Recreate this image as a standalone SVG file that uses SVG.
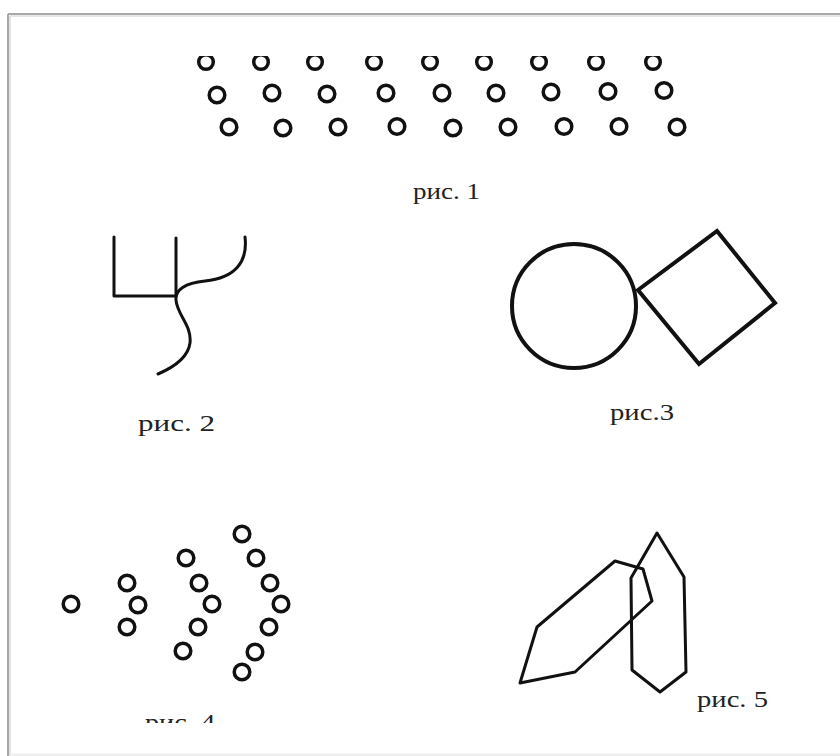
<svg xmlns="http://www.w3.org/2000/svg" width="840" height="756" viewBox="0 0 840 756">
<style>
.ring{fill:none;stroke:#111;stroke-width:3.5}
.ln{fill:none;stroke:#111;stroke-width:3;stroke-linecap:round;stroke-linejoin:round}
.thick{fill:none;stroke:#111;stroke-width:4;stroke-linejoin:miter}
.cap{font-family:"Liberation Serif","Times New Roman",serif;font-size:24px;fill:#222}
</style>
<defs>
<clipPath id="topclip"><rect x="0" y="56" width="840" height="700"/></clipPath>
<clipPath id="botclip"><rect x="0" y="0" width="840" height="723"/></clipPath>
</defs>
<rect width="840" height="756" fill="#fff"/>
<g id="frame">
<line x1="8" y1="14" x2="840" y2="14" stroke="#a8a8a8" stroke-width="2"/>
<line x1="10" y1="16" x2="840" y2="16" stroke="#e6e6e6" stroke-width="2"/>
<line x1="8" y1="14" x2="8" y2="756" stroke="#a8a8a8" stroke-width="2"/>
<line x1="10" y1="16" x2="10" y2="756" stroke="#e2e2e2" stroke-width="2"/>
<line x1="10" y1="755" x2="840" y2="755" stroke="#efefef" stroke-width="3"/>
</g>
<g id="fig1">
<g clip-path="url(#topclip)">
<circle class="ring" cx="206" cy="62" r="7.3"/>
<circle class="ring" cx="261" cy="62" r="7.3"/>
<circle class="ring" cx="315" cy="62" r="7.3"/>
<circle class="ring" cx="374" cy="62" r="7.3"/>
<circle class="ring" cx="430" cy="62" r="7.3"/>
<circle class="ring" cx="484" cy="62" r="7.3"/>
<circle class="ring" cx="539" cy="62" r="7.3"/>
<circle class="ring" cx="596" cy="62" r="7.3"/>
<circle class="ring" cx="653" cy="62" r="7.3"/>
</g>
<circle class="ring" cx="217" cy="95" r="7.8"/>
<circle class="ring" cx="272" cy="93" r="7.8"/>
<circle class="ring" cx="327" cy="94" r="7.8"/>
<circle class="ring" cx="386" cy="93" r="7.8"/>
<circle class="ring" cx="442" cy="93" r="7.8"/>
<circle class="ring" cx="496" cy="93" r="7.8"/>
<circle class="ring" cx="551" cy="92" r="7.8"/>
<circle class="ring" cx="608" cy="91.5" r="7.8"/>
<circle class="ring" cx="664" cy="90.5" r="7.8"/>
<circle class="ring" cx="229" cy="127" r="7.8"/>
<circle class="ring" cx="283" cy="128" r="7.8"/>
<circle class="ring" cx="338" cy="127" r="7.8"/>
<circle class="ring" cx="397" cy="126.5" r="7.8"/>
<circle class="ring" cx="453" cy="128" r="7.8"/>
<circle class="ring" cx="508" cy="127" r="7.8"/>
<circle class="ring" cx="564" cy="126.5" r="7.8"/>
<circle class="ring" cx="619" cy="126.5" r="7.8"/>
<circle class="ring" cx="677" cy="127" r="7.8"/>
<text class="cap" x="413" y="199" textLength="67" lengthAdjust="spacingAndGlyphs">рис. 1</text>
</g>
<g id="fig2">
<path class="ln" d="M114,237 V296 H176"/>
<path class="ln" d="M176,238 V296"/>
<path class="ln" d="M245,237 C248,262 235,278 205,281 C185,283 175,290 176,300 C177,315 192,325 190,343 C188,358 172,368 158,374"/>
<text class="cap" x="138" y="431" textLength="77" lengthAdjust="spacingAndGlyphs">рис. 2</text>
</g>
<g id="fig3">
<circle cx="574" cy="306" r="62" fill="none" stroke="#111" stroke-width="4"/>
<polygon class="thick" points="638,290 717,231 775,303 699,364"/>
<text class="cap" x="610" y="420" textLength="64" lengthAdjust="spacingAndGlyphs">рис.3</text>
</g>
<g id="fig4">
<circle class="ring" cx="71" cy="604" r="7.8"/>
<circle class="ring" cx="127" cy="583" r="7.8"/>
<circle class="ring" cx="138" cy="605" r="7.8"/>
<circle class="ring" cx="127" cy="627" r="7.8"/>
<circle class="ring" cx="186" cy="558" r="7.8"/>
<circle class="ring" cx="199" cy="583" r="7.8"/>
<circle class="ring" cx="212" cy="604" r="7.8"/>
<circle class="ring" cx="198" cy="627" r="7.8"/>
<circle class="ring" cx="183" cy="651" r="7.8"/>
<circle class="ring" cx="242" cy="534" r="7.8" stroke-width="4.2"/>
<circle class="ring" cx="256" cy="558" r="7.8"/>
<circle class="ring" cx="270" cy="583" r="7.8"/>
<circle class="ring" cx="281" cy="604" r="7.8"/>
<circle class="ring" cx="269" cy="627" r="7.8"/>
<circle class="ring" cx="255" cy="652" r="7.8"/>
<circle class="ring" cx="242" cy="672" r="7.8" stroke-width="4.2"/>
<g clip-path="url(#botclip)">
<text class="cap" x="145" y="730" textLength="70" lengthAdjust="spacingAndGlyphs">рис. 4</text>
</g>
</g>
<g id="fig5">
<polygon class="ln" points="520,683 537,627 615,561 643,569 652,601 575,672"/>
<polygon class="ln" points="657,533 684,577 686,672 660,692 632,670 631,578"/>
<text class="cap" x="697" y="707" textLength="71" lengthAdjust="spacingAndGlyphs">рис. 5</text>
</g>
</svg>
